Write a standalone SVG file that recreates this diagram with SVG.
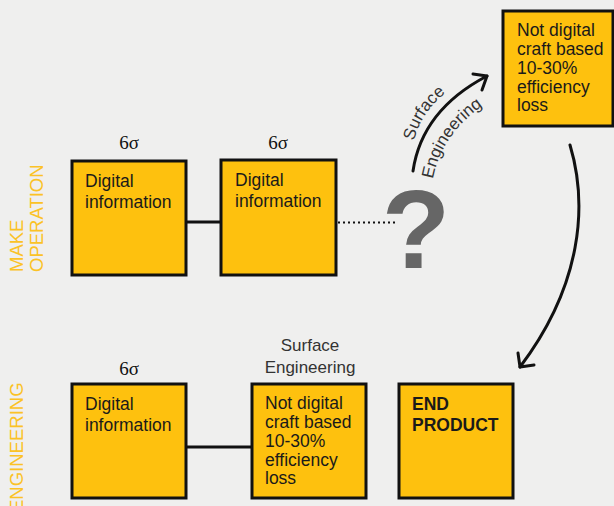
<svg xmlns="http://www.w3.org/2000/svg" width="614" height="506" viewBox="0 0 614 506">
<style>
.box{fill:#FEC10E;stroke:#111;stroke-width:3}
.t{font-family:"Liberation Sans",Arial,sans-serif;font-size:17.5px;fill:#1a1a1a}
.b{font-weight:bold}
.sig{font-family:"Liberation Serif","Times New Roman",serif;font-size:19px;fill:#111;text-anchor:middle}
.side{font-family:"Liberation Sans",Arial,sans-serif;font-size:18.5px;fill:#FBC226}
.lab{font-family:"Liberation Sans",Arial,sans-serif;font-size:17px;fill:#333}
.ln{fill:none;stroke:#111;stroke-width:3}
.arr{fill:none;stroke:#111;stroke-width:3;stroke-linecap:round;stroke-linejoin:round}
</style>
<defs>
<path id="pS" d="M414,141 Q423,104 462,82"/>
<path id="pE" d="M433,179 Q443,124 506,92"/>
</defs>
<rect width="614" height="506" fill="#EFEFEE"/>
<g id="side-labels">
<text class="side" transform="translate(23,272) rotate(-90)">MAKE</text>
<text class="side" transform="translate(43,272) rotate(-90)">OPERATION</text>
<text class="side" transform="translate(23,512) rotate(-90)">ENGINEERING</text>
</g>
<g id="connectors">
<line class="ln" x1="186" y1="222" x2="221" y2="222"/>
<line x1="338" y1="222.5" x2="396" y2="222.5" stroke="#111" stroke-width="2.2" stroke-dasharray="2,3"/>
<line class="ln" x1="186" y1="447" x2="252" y2="447"/>
<path class="arr" d="M413,171 Q422,110 487,76"/>
<path class="arr" d="M473,74 L487,76 L482,90"/>
<path class="arr" d="M570,145 C588,205 582,285 520,367"/>
<path class="arr" d="M518,353 L520,367 L534,365"/>
<text class="lab"><textPath href="#pS">Surface</textPath></text>
<text class="lab"><textPath href="#pE">Engineering</textPath></text>
</g>
<g id="question">
<text x="416" y="268" font-family="Liberation Sans,Arial,sans-serif" font-weight="bold" font-size="112" fill="#666" text-anchor="middle">?</text>
</g>
<g id="top-digital-1">
<text class="sig" x="129" y="149">6σ</text>
<rect class="box" x="72" y="161" width="114" height="114"/>
<text class="t" x="85" y="187">Digital</text>
<text class="t" x="85" y="208">information</text>
</g>
<g id="top-digital-2">
<text class="sig" x="278" y="149">6σ</text>
<rect class="box" x="221" y="160" width="115" height="115"/>
<text class="t" x="235" y="186">Digital</text>
<text class="t" x="235" y="207">information</text>
</g>
<g id="top-craft">
<rect class="box" x="503" y="11" width="110" height="115"/>
<text class="t" x="517" y="36">Not digital</text>
<text class="t" x="517" y="55">craft based</text>
<text class="t" x="517" y="74">10-30%</text>
<text class="t" x="517" y="93">efficiency</text>
<text class="t" x="517" y="111">loss</text>
</g>
<g id="bottom-digital">
<text class="sig" x="129" y="375">6σ</text>
<rect class="box" x="72" y="384" width="114" height="114"/>
<text class="t" x="85" y="410">Digital</text>
<text class="t" x="85" y="431">information</text>
</g>
<g id="bottom-craft">
<text class="lab" x="310" y="351" text-anchor="middle">Surface</text>
<text class="lab" x="310" y="373" text-anchor="middle">Engineering</text>
<rect class="box" x="252" y="384" width="114" height="114"/>
<text class="t" x="265" y="409">Not digital</text>
<text class="t" x="265" y="428">craft based</text>
<text class="t" x="265" y="447">10-30%</text>
<text class="t" x="265" y="466">efficiency</text>
<text class="t" x="265" y="484">loss</text>
</g>
<g id="end-product">
<rect class="box" x="399" y="384" width="114" height="114"/>
<text class="t b" x="412" y="410">END</text>
<text class="t b" x="412" y="431">PRODUCT</text>
</g>
</svg>
